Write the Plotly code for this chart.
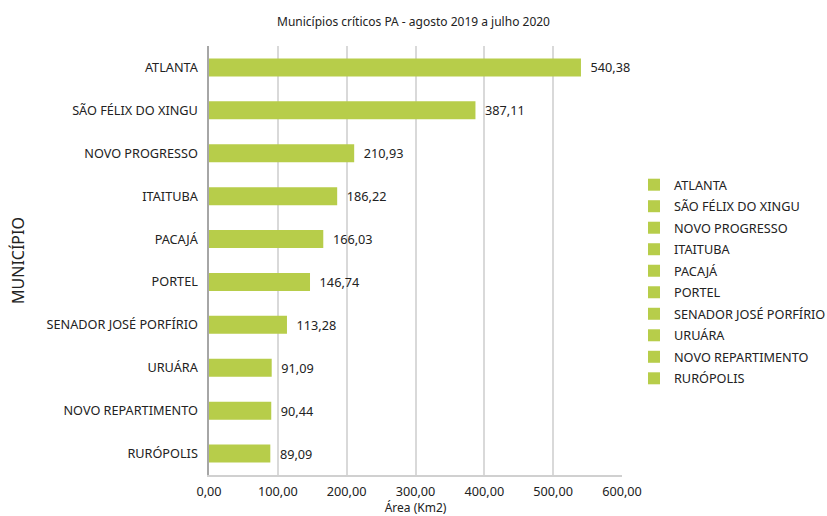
import plotly.graph_objects as go

municipios = [
    "ATLANTA", "SÃO FÉLIX DO XINGU", "NOVO PROGRESSO", "ITAITUBA", "PACAJÁ",
    "PORTEL", "SENADOR JOSÉ PORFÍRIO", "URUÁRA", "NOVO REPARTIMENTO", "RURÓPOLIS",
]
area_km2 = [540.38, 387.11, 210.93, 186.22, 166.03, 146.74, 113.28, 91.09, 90.44, 89.09]
x_ticks = [0, 100, 200, 300, 400, 500, 600]

COR = "#B7CD4A"
FONTE = "Noto Sans, Open Sans, sans-serif"
FS = 12.7

fig = go.Figure()
for nome, valor in zip(municipios, area_km2):
    fig.add_trace(go.Bar(
        y=[nome],
        x=[valor],
        orientation="h",
        name=nome,
        legendgroup=nome,
        marker=dict(color=COR, line=dict(width=0)),
        width=0.42,
        text=["  " + f"{valor:.2f}".replace(".", ",")],
        textposition="outside",
        textfont=dict(color="#222222", size=FS),
        cliponaxis=False,
    ))

fig.update_layout(
    width=827,
    height=516,
    barmode="overlay",
    separators=",.",
    paper_bgcolor="white",
    plot_bgcolor="white",
    font=dict(family=FONTE, color="#222222", size=FS),
    title=dict(
        text="Municípios críticos PA - agosto 2019 a julho 2020",
        x=0.5, xanchor="center", y=0.958, yanchor="middle",
        font=dict(size=12, color="#222222"),
    ),
    margin=dict(l=209, r=205, t=46, b=41, autoexpand=False),
    legend=dict(
        x=1.029, xanchor="left", y=0.45, yanchor="middle",
        font=dict(size=FS, color="#222222"),
        tracegroupgap=2,
        itemwidth=30,
    ),
)

fig.update_xaxes(
    range=[0, 600],
    tickvals=x_ticks,
    tickformat=".2f",
    showgrid=True,
    gridcolor="#D9D9D9",
    gridwidth=2,
    zeroline=False,
    showline=True,
    linecolor="#D0D0D0",
    linewidth=2,
    ticks="",
    ticklabelstandoff=4,
    tickfont=dict(size=FS),
    title=dict(text="Área (Km2)", font=dict(size=12), standoff=4),
)
fig.update_yaxes(
    categoryorder="array",
    categoryarray=municipios,
    autorange="reversed",
    showgrid=False,
    showline=True,
    linecolor="#A6A6A6",
    linewidth=2,
    ticks="",
    ticksuffix="  ",
    tickfont=dict(size=FS),
    title=dict(text="MUNICÍPIO", font=dict(size=16), standoff=18),
)

# a página não deve ter margem no body
fig.write_html(
    "out.html",
    config={"displayModeBar": False},
    post_script="document.body.style.margin='0';",
)
